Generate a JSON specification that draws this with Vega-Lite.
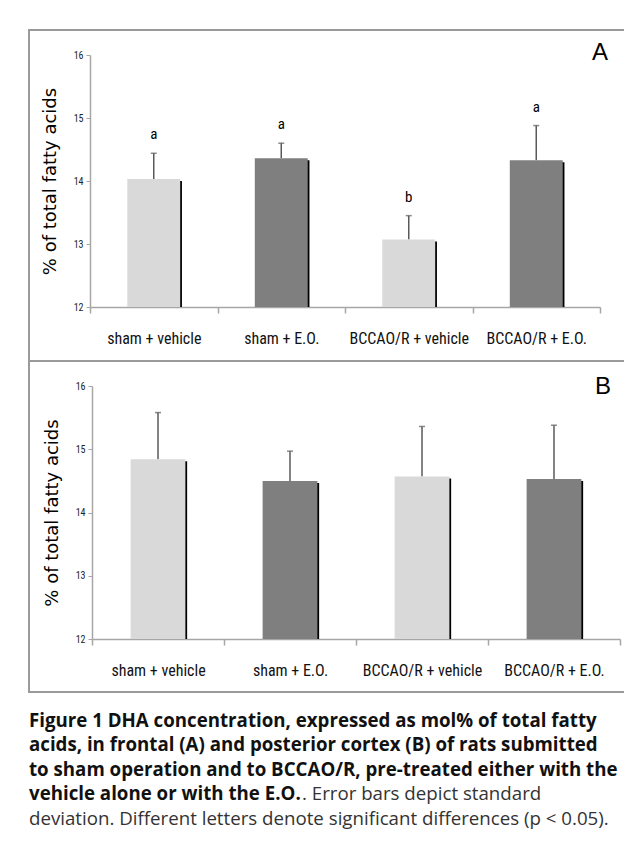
{
  "$schema": "https://vega.github.io/schema/vega-lite/v6.json",
  "padding": {"left": 28, "top": 29, "right": 0, "bottom": 0},
  "spacing": 0,
  "bounds": "flush",
  "datasets": {
    "A": [
      {"group": "sham + vehicle", "trt": "vehicle", "mean": 14.03, "upper": 14.44, "letter": "a"},
      {"group": "sham + E.O.", "trt": "E.O.", "mean": 14.36, "upper": 14.60, "letter": "a"},
      {"group": "BCCAO/R + vehicle", "trt": "vehicle", "mean": 13.07, "upper": 13.45, "letter": "b"},
      {"group": "BCCAO/R + E.O.", "trt": "E.O.", "mean": 14.33, "upper": 14.88, "letter": "a"}
    ],
    "B": [
      {"group": "sham + vehicle", "trt": "vehicle", "mean": 14.84, "upper": 15.58},
      {"group": "sham + E.O.", "trt": "E.O.", "mean": 14.50, "upper": 14.97},
      {"group": "BCCAO/R + vehicle", "trt": "vehicle", "mean": 14.57, "upper": 15.36},
      {"group": "BCCAO/R + E.O.", "trt": "E.O.", "mean": 14.53, "upper": 15.38}
    ],
    "caption": [
      {"line": 1, "part": "b", "text": "Figure 1 DHA concentration, expressed as mol% of total fatty"},
      {"line": 2, "part": "b", "text": "acids, in frontal (A) and posterior cortex (B) of rats submitted"},
      {"line": 3, "part": "b", "text": "to sham operation and to BCCAO/R, pre-treated either with the"},
      {"line": 4, "part": "b", "text": "vehicle alone or with the E.O."},
      {"line": 4, "part": "r2", "text": ". Error bars depict standard"},
      {"line": 5, "part": "r", "text": "deviation. Different letters denote significant differences (p < 0.05)."}
    ]
  },
  "vconcat": [
    {
      "width": 600,
      "height": 331,
      "title": {"text": "A", "anchor": "end", "orient": "top", "frame": "group", "offset": -35, "dx": -21, "fontSize": 24, "font": "Liberation Sans", "fontWeight": "normal", "color": "#000"},
      "data": {"name": "A"},
      "encoding": {
        "x": {
          "field": "group", "type": "nominal", "sort": null,
          "scale": {"type": "band", "range": [61, 571], "paddingInner": 0, "paddingOuter": 0},
          "axis": {"orient": "bottom", "offset": -54, "title": null, "tickBand": "extent", "tickSize": 6, "labelPadding": 17, "labelAngle": 0, "labelFont": "Liberation Sans Narrow, Roboto Condensed, Liberation Sans", "labelFontSize": 16, "labelColor": "#111", "domainColor": "#a6a6a6", "domainWidth": 1.5, "tickColor": "#a6a6a6", "tickWidth": 1.5}
        }
      },
      "layer": [
        {
          "mark": {"type": "rule", "color": "#5a5a5a", "strokeWidth": 1.5},
          "encoding": {
            "y": {"field": "mean", "type": "quantitative", "scale": {"domain": [12, 16], "range": [277, 25], "nice": false, "zero": false},
              "axis": {"values": [12, 13, 14, 15, 16], "format": "d", "offset": -61, "title": "% of total fatty acids", "titleFont": "DejaVu Sans", "titleFontSize": 18, "titleFontWeight": "normal", "titleColor": "#000", "titlePadding": 14, "labelFont": "Liberation Sans Narrow, Roboto Condensed, Liberation Sans", "labelFontSize": 10, "labelColor": "#222", "labelPadding": 3, "tickSize": 4, "tickColor": "#a6a6a6", "domainColor": "#a6a6a6", "domainWidth": 1.5, "grid": false}},
            "y2": {"field": "upper"}
          }
        },
        {
          "mark": {"type": "tick", "orient": "horizontal", "size": 6, "thickness": 1.5, "color": "#5a5a5a"},
          "encoding": {"y": {"field": "upper", "type": "quantitative"}}
        },
        {
          "mark": {"type": "bar", "width": {"band": 0.415}, "color": "#000", "xOffset": 1.75, "yOffset": 2},
          "encoding": {"y": {"field": "mean", "type": "quantitative"}, "y2": {"datum": 12}}
        },
        {
          "mark": {"type": "bar", "width": {"band": 0.415}},
          "encoding": {
            "y": {"field": "mean", "type": "quantitative"},
            "y2": {"datum": 12},
            "color": {"field": "trt", "type": "nominal", "scale": {"domain": ["vehicle", "E.O."], "range": ["#d9d9d9", "#7f7f7f"]}, "legend": null}
          }
        },
        {
          "mark": {"type": "text", "dy": -14, "baseline": "alphabetic", "font": "Liberation Sans Narrow, Roboto Condensed, Liberation Sans", "fontSize": 15, "color": "#000"},
          "encoding": {"y": {"field": "upper", "type": "quantitative"}, "text": {"field": "letter"}}
        }
      ]
    },
    {
      "width": 600,
      "height": 331,
      "title": {"text": "B", "anchor": "end", "orient": "top", "frame": "group", "offset": -38, "dx": -18, "fontSize": 24, "font": "Liberation Sans", "fontWeight": "normal", "color": "#000"},
      "data": {"name": "B"},
      "encoding": {
        "x": {
          "field": "group", "type": "nominal", "sort": null,
          "scale": {"type": "band", "range": [63, 591], "paddingInner": 0, "paddingOuter": 0},
          "axis": {"orient": "bottom", "offset": -53, "title": null, "tickBand": "extent", "tickSize": 6, "labelPadding": 17, "labelAngle": 0, "labelFont": "Liberation Sans Narrow, Roboto Condensed, Liberation Sans", "labelFontSize": 16, "labelColor": "#111", "domainColor": "#a6a6a6", "domainWidth": 1.5, "tickColor": "#a6a6a6", "tickWidth": 1.5}
        }
      },
      "layer": [
        {
          "mark": {"type": "rule", "color": "#5a5a5a", "strokeWidth": 1.5},
          "encoding": {
            "y": {"field": "mean", "type": "quantitative", "scale": {"domain": [12, 16], "range": [278, 25], "nice": false, "zero": false},
              "axis": {"values": [12, 13, 14, 15, 16], "format": "d", "offset": -63, "title": "% of total fatty acids", "titleFont": "DejaVu Sans", "titleFontSize": 18, "titleFontWeight": "normal", "titleColor": "#000", "titlePadding": 14, "labelFont": "Liberation Sans Narrow, Roboto Condensed, Liberation Sans", "labelFontSize": 10, "labelColor": "#222", "labelPadding": 3, "tickSize": 4, "tickColor": "#a6a6a6", "domainColor": "#a6a6a6", "domainWidth": 1.5, "grid": false}},
            "y2": {"field": "upper"}
          }
        },
        {
          "mark": {"type": "tick", "orient": "horizontal", "size": 6, "thickness": 1.5, "color": "#5a5a5a"},
          "encoding": {"y": {"field": "upper", "type": "quantitative"}}
        },
        {
          "mark": {"type": "bar", "width": {"band": 0.415}, "color": "#000", "xOffset": 1.75, "yOffset": 2},
          "encoding": {"y": {"field": "mean", "type": "quantitative"}, "y2": {"datum": 12}}
        },
        {
          "mark": {"type": "bar", "width": {"band": 0.415}},
          "encoding": {
            "y": {"field": "mean", "type": "quantitative"},
            "y2": {"datum": 12},
            "color": {"field": "trt", "type": "nominal", "scale": {"domain": ["vehicle", "E.O."], "range": ["#d9d9d9", "#7f7f7f"]}, "legend": null}
          }
        }
      ]
    },
    {
      "width": 600,
      "height": 147,
      "view": {"stroke": null},
      "data": {"name": "caption"},
      "encoding": {
        "x": {"datum": 0, "type": "quantitative", "scale": {"domain": [0, 1]}, "axis": null},
        "y": {"field": "line", "type": "ordinal", "scale": {"type": "point", "padding": 1.0, "align": 0.714}, "axis": null}
      },
      "layer": [
        {
          "transform": [{"filter": "datum.part === 'b'"}],
          "mark": {"type": "text", "align": "left", "baseline": "alphabetic", "font": "Open Sans", "fontWeight": "bold", "fontSize": 18.7, "color": "#111"},
          "encoding": {"text": {"field": "text"}}
        },
        {
          "transform": [{"filter": "datum.part === 'r'"}],
          "mark": {"type": "text", "align": "left", "baseline": "alphabetic", "font": "Open Sans", "fontSize": 18.7, "color": "#333"},
          "encoding": {"text": {"field": "text"}}
        },
        {
          "transform": [{"filter": "datum.part === 'r2'"}],
          "mark": {"type": "text", "align": "left", "baseline": "alphabetic", "dx": 273, "font": "Open Sans", "fontSize": 18.7, "color": "#333"},
          "encoding": {"text": {"field": "text"}}
        }
      ]
    }
  ],
  "config": {
    "view": {"stroke": "#9a9a9a", "strokeWidth": 2},
    "axis": {"labelFlush": false, "labelOverlap": false}
  }
}
